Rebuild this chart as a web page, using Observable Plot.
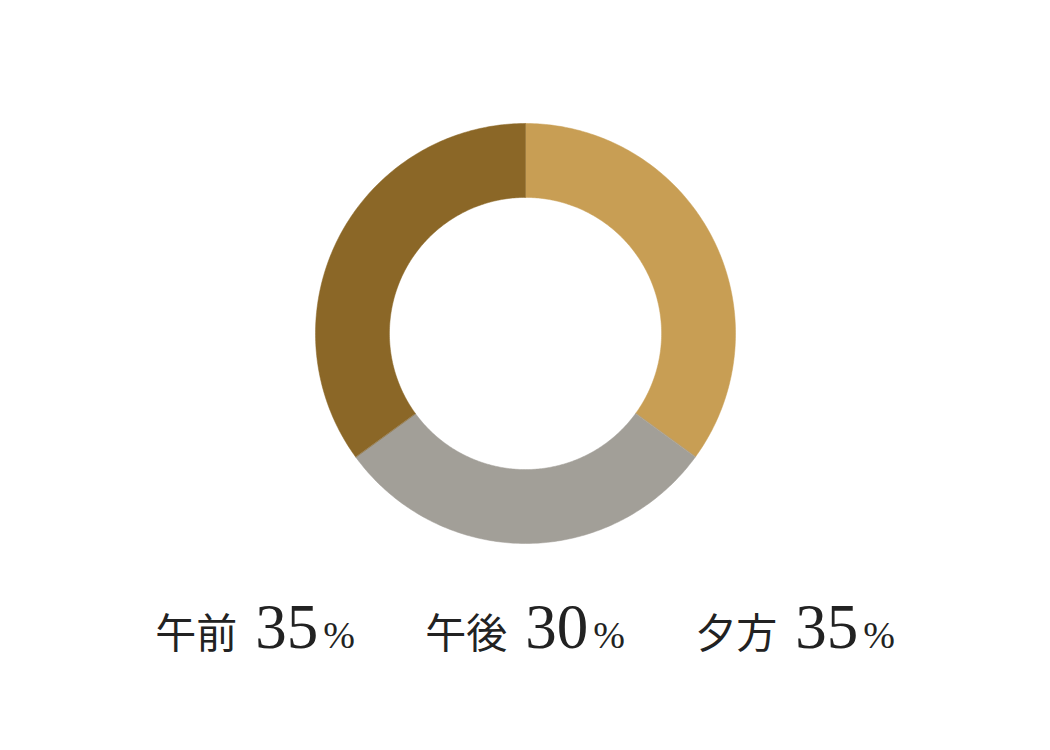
<!DOCTYPE html>
<html><head><meta charset="utf-8">
<script src="https://cdn.jsdelivr.net/npm/d3@7"></script>
<script src="https://cdn.jsdelivr.net/npm/@observablehq/plot@0.6"></script>
<style>
body{margin:0;background:#fff;}
#legend{position:relative;width:1050px;height:170px;}
.item{position:absolute;top:2px;transform:translateX(-50%);white-space:nowrap;color:#222;font-family:"Liberation Serif","Noto Sans CJK JP",serif;line-height:90px;}
.cat{font-family:"Noto Sans CJK JP",sans-serif;font-size:41px;margin-right:18px;}
.num{font-size:63px;}
.pct{font-size:38px;margin-left:5px;}
</style></head><body><div id="chart"></div><div id="legend"></div>
<script>
const categories = ["午前","午後","夕方"];
const values = [35,30,35];
const colors = ["#C89E54","#A29F98","#8B6727"];
const innerRatio = 0.648;

const total = d3.sum(values);
let acc = 0;
const rows = [];
categories.forEach((c, i) => {
  const a0 = acc / total * 2 * Math.PI, a1 = (acc + values[i]) / total * 2 * Math.PI;
  acc += values[i];
  const n = 160;
  for (let k = 0; k <= n; k++) { const a = a0 + (a1 - a0) * k / n; rows.push({cat: c, x: Math.sin(a), y: Math.cos(a)}); }
  for (let k = n; k >= 0; k--) { const a = a0 + (a1 - a0) * k / n; rows.push({cat: c, x: innerRatio * Math.sin(a), y: innerRatio * Math.cos(a)}); }
});

const W = 1050, H = 580, R = 210, cx = 525, cy = 333;
const chart = Plot.plot({
  width: W, height: H, margin: 0,
  x: {domain: [-cx / R, (W - cx) / R], axis: null},
  y: {domain: [-(H - cy) / R, cy / R], axis: null},
  color: {domain: categories, range: colors},
  marks: [
    Plot.line(rows, {x: "x", y: "y", z: "cat", fill: "cat", stroke: "cat", strokeWidth: 0.5, curve: "linear-closed"})
  ]
});
document.getElementById("chart").append(chart);

const legend = document.getElementById("legend");
categories.forEach((c, i) => {
  const d = document.createElement("div");
  d.className = "item";
  d.style.left = (cx + (i - 1) * 270) + "px";
  d.innerHTML = `<span class="cat">${c}</span><span class="num">${values[i]}</span><span class="pct">%</span>`;
  legend.append(d);
});
</script></body></html>
